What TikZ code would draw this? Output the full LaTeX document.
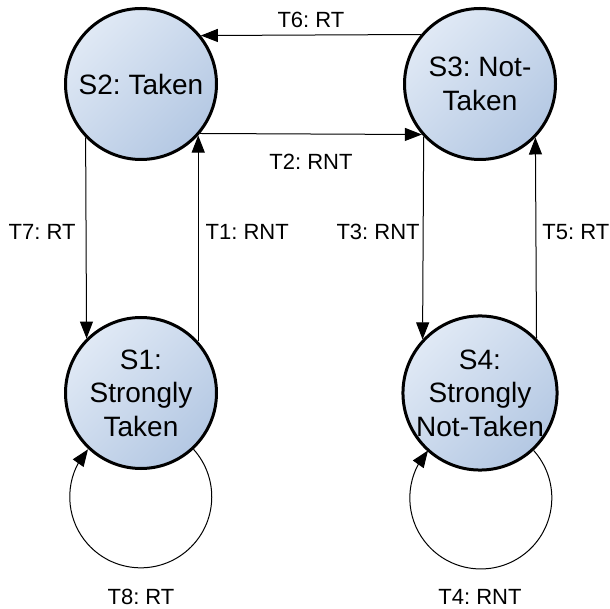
\documentclass[tikz,border=0pt]{standalone}
\usepackage{fontspec}
\setmainfont{Liberation Sans}
\frenchspacing
\usetikzlibrary{arrows.meta,bending}
\definecolor{fillA}{RGB}{224,233,245}
\definecolor{fillB}{RGB}{180,200,227}
\begin{document}
\begin{tikzpicture}[x=1pt,y=1pt,
  state/.style={circle, draw=black, line width=3pt, minimum size=151pt, inner sep=0pt, align=center,
    top color=fillA, bottom color=fillB, shading angle=45, font=\fontsize{28}{33.5}\selectfont\frenchspacing},
  trans/.style={draw=black, line width=1pt, -{Triangle[length=17pt,width=13pt]}},
  lbl/.style={inner sep=0pt, font=\fontsize{22}{26}\selectfont\frenchspacing}]
\useasboundingbox (0,0) rectangle (610,608);
\node[state] (s2) at (141,524) {S2: Taken};
\node[state] (s3) at (480,524) {S3: Not-\\Taken};
\node[state] (s1) at (141,215) {S1:\\Strongly\\Taken};
\node[state] (s4) at (480,215) {S4:\\Strongly\\Not-Taken};
% horizontal transitions
\draw[trans] (s3.140.5) -- node[lbl,pos=0.5,above=7pt] (l6) {T6: RT} (s2.39.5);
\draw[trans] (s2.-40.5) -- node[lbl,pos=0.5,below=20pt] (l2) {T2: RNT} (s3.-139.5);
% vertical transitions
\draw[trans] (s2.224.4) -- node[lbl,pos=0.47,left=10pt] (l7) {T7: RT} (s1.135.6);
\draw[trans] (s1.42.3) -- node[lbl,pos=0.53,right=7pt] (l1) {T1: RNT} (s2.-42.3);
\draw[trans] (s3.-137.7) -- node[lbl,pos=0.47,left=3pt] (l3) {T3: RNT} (s4.137.7);
\draw[trans] (s4.44.4) -- node[lbl,pos=0.53,right=6pt] (l5) {T5: RT} (s3.-44.4);
% self loops
\draw[trans] (s1.-47) arc[start angle=42, end angle=-222, radius=71];
\draw[trans] (s4.-47) arc[start angle=42, end angle=-222, radius=71];
\node[lbl] (l8) at ([yshift=-203.5pt]s1.center) {T8: RT};
\node[lbl] (l4) at ([yshift=-203.5pt]s4.center) {T4: RNT};
\end{tikzpicture}
\end{document}
